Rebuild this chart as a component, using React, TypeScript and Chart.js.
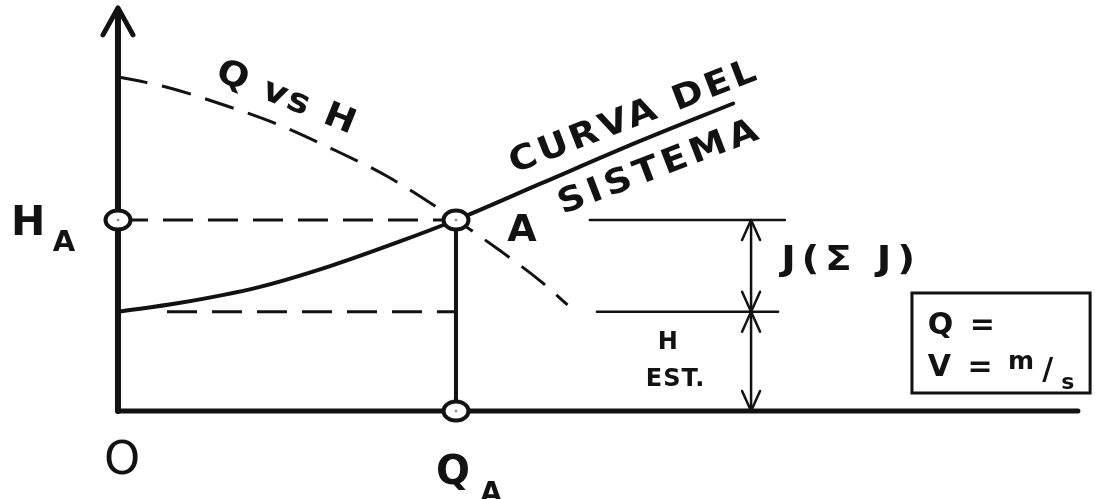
import React, { useEffect, useRef } from "react";
import { Chart, registerables } from "chart.js";

Chart.register(...registerables);

// ---- Data (arbitrary units: Q with Q_A = 10, H with H_A = 10) ----
const Q_A = 10;
const H_A = 10;
const H_EST = 5.2;
const Q_AXIS_END = 28.4;
const H_AXIS_TOP = 21.0;

// Pump curve "Q vs H" (dashed)
const bombaQ = [0, 1.45, 3.0, 4.6, 6.3, 8.0, 10, 11.3, 12.5, 13.3];
const bombaH = [17.5, 16.95, 16.1, 15.1, 13.75, 12.25, 10, 8.4, 6.8, 5.55];

// System curve "Curva del sistema" (solid)
const sistemaQ = [0, 1.8, 4.2, 6.3, 8.3, 10, 12.5, 15.4, 18.2];
const sistemaH = [5.2, 5.65, 6.5, 7.6, 8.85, 10, 11.9, 14.1, 16.1];

// Reference lines / dimensions on the right
const refTopQ = [13.96, 19.73];
const refEstQ = [14.17, 19.53];
const dimQ = 18.73;
const estDashStartQ = 1.45;
const boxQ = [23.49, 28.76];
const boxH = [0.94, 6.18];

// Scale window
const X_MIN = -3.49;
const X_MAX = 28.905;
const Y_MIN = -4.607;
const Y_MAX = 21.518;

const INK = "#121212";
const FONT = '"DejaVu Sans", "Liberation Sans", sans-serif';

type Label = {
  text: string;
  q: number;
  h: number;
  size: number;
  rot?: number;
  weight?: string;
  spacing?: number;
  sx?: number;
  align?: "left" | "center";
};

const labels: Label[] = [
  { text: "Q vs H", q: 5.0, h: 16.54, size: 34, rot: 22, weight: "bold", spacing: 2, sx: 1.1 },
  { text: "CURVA DEL", q: 15.2, h: 15.5, size: 34, rot: -21, weight: "bold", spacing: 3, sx: 1.1 },
  { text: "SISTEMA", q: 15.95, h: 12.88, size: 34, rot: -21, weight: "bold", spacing: 4, sx: 1.1 },
  { text: "A", q: 11.95, h: 9.63, size: 38, weight: "bold" },
  { text: "H", q: -2.66, h: 10.0, size: 41, weight: "bold" },
  { text: "A", q: -1.6, h: 8.9, size: 29, weight: "bold" },
  { text: "O", q: 0.12, h: -2.41, size: 46, weight: "normal" },
  { text: "Q", q: 9.91, h: -3.09, size: 40, weight: "bold" },
  { text: "A", q: 11.04, h: -4.24, size: 28, weight: "bold" },
  { text: "J(Σ J)", q: 21.6, h: 8.01, size: 34, weight: "bold", spacing: 5, sx: 1.15 },
  { text: "H", q: 16.27, h: 3.72, size: 24, weight: "bold" },
  { text: "EST.", q: 16.48, h: 1.78, size: 24, weight: "bold", spacing: 1 },
  { text: "Q =", q: 23.96, h: 4.61, size: 30, weight: "bold", align: "left", spacing: 3 },
  { text: "V =", q: 23.96, h: 2.41, size: 30, weight: "bold", align: "left", spacing: 3 },
  { text: "m", q: 26.33, h: 2.67, size: 25, weight: "bold", align: "left" },
  { text: "/", q: 27.51, h: 2.25, size: 30, weight: "bold" },
  { text: "s", q: 28.1, h: 1.57, size: 22, weight: "bold" },
];

const pts = (xs: number[], ys: number[]) => xs.map((x, i) => ({ x, y: ys[i] }));

function makeEllipse(): HTMLCanvasElement {
  const c = document.createElement("canvas");
  c.width = 34;
  c.height = 28;
  const g = c.getContext("2d")!;
  g.beginPath();
  g.ellipse(17, 14, 12.5, 9.5, 0, 0, Math.PI * 2);
  g.fillStyle = "#ffffff";
  g.fill();
  g.lineWidth = 4;
  g.strokeStyle = INK;
  g.stroke();
  g.beginPath();
  g.arc(17, 14, 1.3, 0, Math.PI * 2);
  g.fillStyle = "#888";
  g.fill();
  return c;
}

const diagramPlugin = {
  id: "diagram",
  afterDatasetsDraw(chart: any) {
    const ctx: CanvasRenderingContext2D = chart.ctx;
    const xs = chart.scales.x;
    const ys = chart.scales.y;
    const px = (q: number) => xs.getPixelForValue(q);
    const py = (h: number) => ys.getPixelForValue(h);

    ctx.save();
    ctx.strokeStyle = INK;
    ctx.fillStyle = INK;
    ctx.lineCap = "round";
    ctx.lineJoin = "round";

    const chevron = (x: number, y: number, dir: number, hw: number, len: number, lw: number) => {
      ctx.beginPath();
      ctx.lineWidth = lw;
      ctx.moveTo(x - hw, y + dir * len);
      ctx.lineTo(x, y);
      ctx.lineTo(x + hw, y + dir * len);
      ctx.stroke();
    };

    // y-axis arrowhead
    chevron(px(0), py(H_AXIS_TOP) - 2, 1, 15, 27, 5);

    // dimension arrows
    const dx = px(dimQ);
    chevron(dx, py(H_A), 1, 9, 20, 2.5);
    chevron(dx, py(H_EST), -1, 9, 20, 2.5);
    chevron(dx, py(H_EST), 1, 9, 20, 2.5);
    chevron(dx, py(0), -1, 9, 20, 2.5);

    // texts
    for (const l of labels) {
      const w = l.weight || "bold";
      ctx.font = `${w} ${l.size}px ${FONT}`;
      const sp = l.spacing || 0;
      const sx = l.sx || 1;
      (ctx as any).letterSpacing = `${sp}px`;
      const width = ctx.measureText(l.text).width - sp;
      ctx.save();
      ctx.translate(px(l.q), py(l.h));
      ctx.rotate(((l.rot || 0) * Math.PI) / 180);
      ctx.scale(sx, 1);
      ctx.textAlign = "left";
      ctx.textBaseline = "alphabetic";
      const x0 = l.align === "left" ? 0 : -width / 2;
      ctx.fillText(l.text, x0, 0.36 * l.size);
      ctx.restore();
    }
    (ctx as any).letterSpacing = "0px";
    ctx.restore();
  },
};

export default function App() {
  const ref = useRef<HTMLCanvasElement | null>(null);

  useEffect(() => {
    if (!ref.current) return;
    const ellipse = makeEllipse();
    const line = (data: { x: number; y: number }[], width: number, dash: number[] = [], extra: any = {}) => ({
      data,
      borderColor: INK,
      borderWidth: width,
      borderDash: dash,
      pointRadius: 0,
      fill: false,
      showLine: true,
      borderCapStyle: dash.length ? "butt" : "round",
      ...extra,
    });

    const chart = new Chart(ref.current, {
      type: "line",
      data: {
        datasets: [
          {
            label: "puntos",
            data: [
              { x: 0, y: H_A },
              { x: Q_A, y: H_A },
              { x: Q_A, y: 0 },
            ],
            showLine: false,
            pointStyle: ellipse as any,
            pointRadius: 12,
            borderColor: INK,
            backgroundColor: "#fff",
          } as any,
          line(pts(sistemaQ, sistemaH), 4, [], { cubicInterpolationMode: "monotone", label: "Curva del sistema" }),
          line(pts(bombaQ, bombaH), 3, [30, 15], { cubicInterpolationMode: "monotone", label: "Q vs H" }),
          line([{ x: 0, y: H_A }, { x: Q_A, y: H_A }], 3, [30, 15]),
          line([{ x: estDashStartQ, y: H_EST }, { x: Q_A, y: H_EST }], 3, [30, 15]),
          line([{ x: Q_A, y: 0 }, { x: Q_A, y: H_A }], 4),
          line([{ x: refTopQ[0], y: H_A }, { x: refTopQ[1], y: H_A }], 2.5),
          line([{ x: refEstQ[0], y: H_EST }, { x: refEstQ[1], y: H_EST }], 2.5),
          line([{ x: dimQ, y: 0 }, { x: dimQ, y: H_A }], 2.5),
          line(
            [
              { x: boxQ[0], y: boxH[0] },
              { x: boxQ[1], y: boxH[0] },
              { x: boxQ[1], y: boxH[1] },
              { x: boxQ[0], y: boxH[1] },
              { x: boxQ[0], y: boxH[0] },
            ],
            3,
            [],
            { borderJoinStyle: "miter", borderCapStyle: "square" }
          ),
          line([{ x: 0, y: 0 }, { x: Q_AXIS_END, y: 0 }], 5),
          line([{ x: 0, y: 0 }, { x: 0, y: H_AXIS_TOP }], 6),
        ] as any,
      },
      options: {
        animation: false,
        responsive: true,
        maintainAspectRatio: false,
        events: [],
        layout: { padding: 0, autoPadding: false },
        plugins: { legend: { display: false }, tooltip: { enabled: false } },
        scales: {
          x: { type: "linear", min: X_MIN, max: X_MAX, display: false },
          y: { type: "linear", min: Y_MIN, max: Y_MAX, display: false },
        },
      },
      plugins: [diagramPlugin],
    });
    return () => chart.destroy();
  }, []);

  return (
    <div style={{ position: "fixed", left: 0, top: 0, width: 1095, height: 499, background: "#fff" }}>
      <canvas ref={ref} />
    </div>
  );
}
